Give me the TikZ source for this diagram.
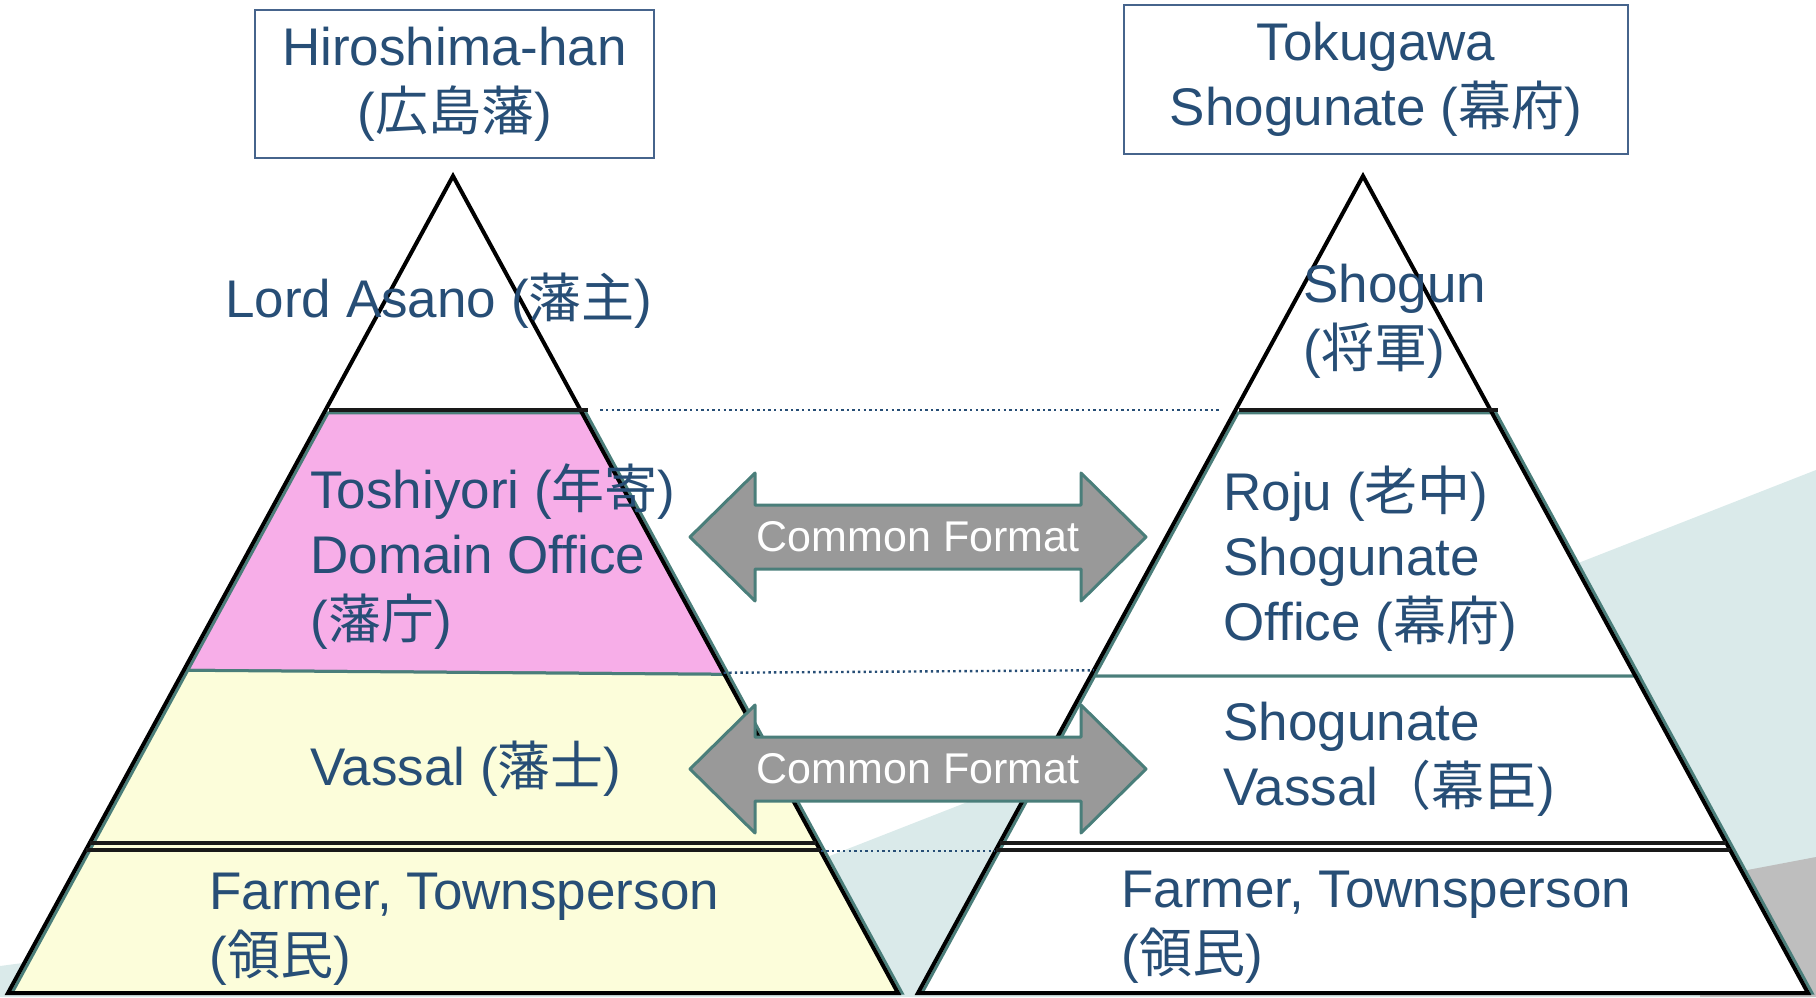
\documentclass[tikz,border=0pt]{standalone}
\usepackage{fontspec}
\setmainfont{Liberation Sans}
\newfontfamily\cjk{Noto Sans CJK JP}
\usetikzlibrary{calc}

\definecolor{txtblue}{RGB}{39,78,118}
\definecolor{boxblue}{RGB}{70,100,140}
\definecolor{tealline}{RGB}{74,126,122}
\definecolor{tealbg}{RGB}{218,234,234}
\definecolor{graybg}{RGB}{190,190,190}
\definecolor{pinkband}{RGB}{247,174,232}
\definecolor{yellowband}{RGB}{252,253,218}
\definecolor{arrowgray}{RGB}{153,153,153}
\definecolor{tierblack}{RGB}{25,25,25}

\begin{document}
\begin{tikzpicture}[
    x=0.5pt, y=-0.5pt,
    rank/.style={anchor=base west, align=left, inner sep=0pt, text=txtblue,
      font=\fontsize{26.5}{32.5}\selectfont},
    titlebox/.style={draw=boxblue, line width=0.8pt, align=center, inner sep=0pt,
      text=txtblue, font=\fontsize{26.5}{32.5}\selectfont},
    band/.style={draw=tealline, line width=1.5pt},
    outline/.style={draw=black, line width=2pt},
    tier/.style={draw=tierblack, line width=2.2pt},
    guide/.style={draw=txtblue, line width=1.2pt, dash pattern=on 1.2pt off 1.6pt},
    fmttext/.style={text=white, inner sep=0pt, font=\fontsize{21.5}{24}\selectfont},
    fmtarrow/.pic={
      \filldraw[fill=arrowgray, draw=tealline, line width=1.5pt, line join=round]
        (-228,0) -- (-163,-64) -- (-163,-32) -- (163,-32) -- (163,-64) -- (228,0)
        -- (163,64) -- (163,32) -- (-163,32) -- (-163,64) -- cycle;
      \node[fmttext] (-label) at (0,0) {#1};
    }
  ]
  \useasboundingbox (0,0) rectangle (1816,997);

  % background of the slide
  \fill[tealbg] (0,966) -- (827,857) -- (1816,470) -- (1816,997) -- (0,997) -- cycle;
  \fill[graybg] (1700,879) -- (1816,857) -- (1816,997) -- (1700,997) -- cycle;

  % the two pyramids
  \coordinate (LA) at (453,176);
  \coordinate (LL) at (8,993);
  \coordinate (LR) at (898,993);
  \coordinate (RA) at (1363,176);
  \coordinate (RL) at (918,993);
  \coordinate (RR) at (1808,993);

  \fill[white] (LA) -- (LL) -- (LR) -- cycle;
  \fill[white] (RA) -- (RL) -- (RR) -- cycle;

  % Hiroshima-han bands
  \filldraw[band, fill=pinkband]
    ($(LA)!.29!(LL)+(4,0)$) -- ($(LA)!.29!(LR)+(4,0)$)
    -- ($(LA)!.61!(LR)+(4,0)$) -- ($(LA)!.605!(LL)+(4,0)$) -- cycle;
  \filldraw[band, fill=yellowband]
    ($(LA)!.605!(LL)+(4,0)$) -- ($(LA)!.61!(LR)+(4,0)$)
    -- ($(LR)+(4,0)$) -- ($(LL)+(4,0)$) -- cycle;

  % Shogunate bands
  \filldraw[band, fill=white]
    ($(RA)!.29!(RL)+(4,0)$) -- ($(RA)!.29!(RR)+(4,0)$)
    -- ($(RA)!.612!(RR)+(4,0)$) -- ($(RA)!.612!(RL)+(4,0)$) -- cycle;
  \filldraw[band, fill=white]
    ($(RA)!.612!(RL)+(4,0)$) -- ($(RA)!.612!(RR)+(4,0)$)
    -- ($(RR)+(4,0)$) -- ($(RL)+(4,0)$) -- cycle;

  \draw[outline] (LA) -- (LL) -- (LR) -- cycle;
  \draw[outline] (RA) -- (RL) -- (RR) -- cycle;

  % rank separators
  \draw[tier] ($(LA)!.2864!(LL)+(3,0)$) -- ($(LA)!.2864!(LR)+(8,0)$);
  \draw[tier] ($(RA)!.2864!(RL)+(3,0)$) -- ($(RA)!.2864!(RR)+(8,0)$);
  \draw[tier] ($(LA)!.8164!(LL)$) -- ($(LA)!.8164!(LR)$);
  \draw[tier] ($(LA)!.8250!(LL)$) -- ($(LA)!.8250!(LR)$);
  \draw[tier] ($(RA)!.8164!(RL)$) -- ($(RA)!.8164!(RR)$);
  \draw[tier] ($(RA)!.8250!(RL)$) -- ($(RA)!.8250!(RR)$);

  % dotted guides between the pyramids
  \coordinate (Lg1) at ($(LA)!.2864!(LR)+(20,0)$);
  \coordinate (Rg1) at ($(RA)!.2864!(RL)+(-16,0)$);
  \coordinate (Lg2) at ($(LA)!.608!(LR)$);
  \coordinate (Rg2) at ($(RA)!.605!(RL)$);
  \coordinate (Lg3) at ($(LA)!.8262!(LR)$);
  \coordinate (Rg3) at ($(RA)!.8262!(RL)$);
  \draw[guide] (Lg1) -- (Rg1);
  \draw[guide] (Lg2) -- (Rg2);
  \draw[guide] (Lg3) -- (Rg3);

  % common format arrows
  \pic (fmtTop) at (918,537) {fmtarrow=Common Format};
  \pic (fmtMid) at (918,769) {fmtarrow=Common Format};

  % titles
  \node[titlebox, minimum width=199.5pt, minimum height=74pt] (han) at (454.5,84)
    {Hiroshima-han\\({\cjk 広島藩})};
  \node[titlebox, minimum width=252pt, minimum height=74.5pt] (bakufu) at (1376,79.5)
    {Tokugawa\\Shogunate ({\cjk 幕府})};

  % Hiroshima-han ranks (base = last line)
  \node[rank] (lord) at (225,317) {Lord Asano ({\cjk 藩主})};
  \node[rank] (toshiyori) at (310,638) {Toshiyori ({\cjk 年寄})\\Domain Office\\({\cjk 藩庁})};
  \node[rank] (hanshi) at (310,785) {Vassal ({\cjk 藩士})};
  \node[rank] (ryominL) at (209,974) {Farmer, Townsperson\\({\cjk 領民})};

  % Shogunate ranks
  \node[rank] (shogun) at (1303,367) {Shogun\\({\cjk 将軍})};
  \node[rank] (roju) at (1223,640) {Roju ({\cjk 老中})\\Shogunate\\Office ({\cjk 幕府})};
  \node[rank] (bakushin) at (1223,805) {Shogunate\\Vassal{\cjk （幕臣}) };
  \node[rank] (ryominR) at (1121,972) {Farmer, Townsperson\\({\cjk 領民})};
\end{tikzpicture}
\end{document}
